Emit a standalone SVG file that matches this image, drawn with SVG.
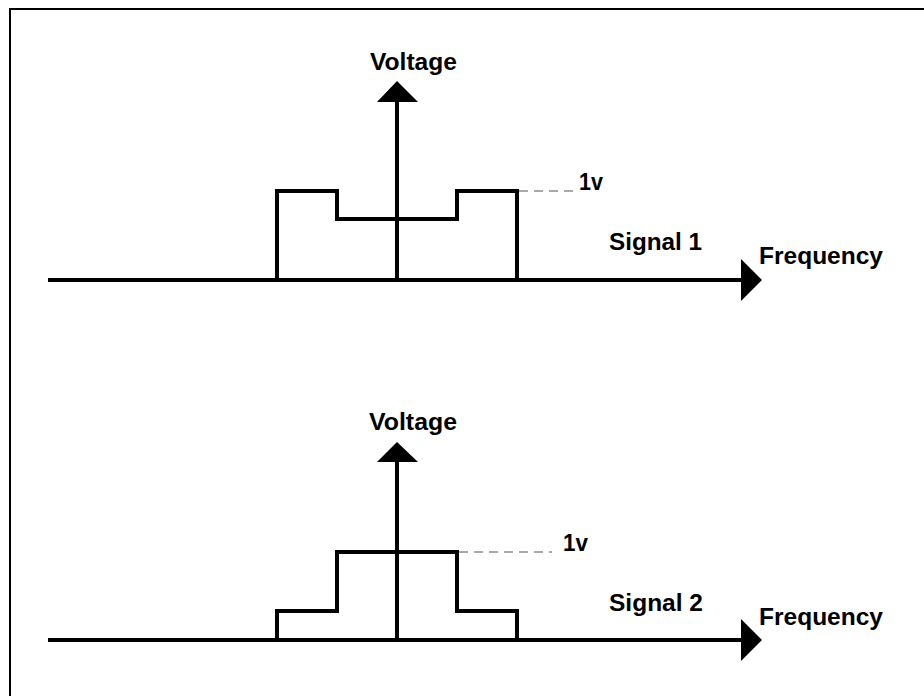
<svg xmlns="http://www.w3.org/2000/svg" width="924" height="696" viewBox="0 0 924 696">
<style>
.ax{stroke:#000;stroke-width:4;fill:none}
.sig{stroke:#000;stroke-width:4;fill:none;stroke-linejoin:miter}
.dash{stroke:#555;stroke-width:1;stroke-dasharray:9,6;fill:none}
.ah{fill:#000}
text{font-family:"Liberation Sans",Arial,sans-serif;font-weight:bold;font-size:23px;fill:#000}
</style>
<rect x="10" y="9" width="1000" height="1000" fill="#fff" stroke="#000" stroke-width="2"/>
<g id="connectors">
<line class="ax" x1="48" y1="280" x2="742" y2="280"/>
<polygon class="ah" points="741,259 762,280 741,301"/>
<line class="ax" x1="397" y1="280" x2="397" y2="101"/>
<polygon class="ah" points="377,102 397,81 418,102"/>
<line class="ax" x1="48" y1="640" x2="742" y2="640"/>
<polygon class="ah" points="741,619 762,640 741,661"/>
<line class="ax" x1="397" y1="640" x2="397" y2="461"/>
<polygon class="ah" points="377,462 397,442 418,462"/>
<line class="dash" x1="519" y1="191" x2="574" y2="191"/>
<line class="dash" x1="459" y1="552" x2="552" y2="552"/>
</g>
<g id="signal1">
<polyline class="sig" points="277,280 277,191 337,191 337,219 457,219 457,191 517,191 517,280"/>
<text x="370" y="70" textLength="87" lengthAdjust="spacingAndGlyphs">Voltage</text>
<text x="579" y="190" textLength="24" lengthAdjust="spacingAndGlyphs">1v</text>
<text x="609" y="250" textLength="93" lengthAdjust="spacingAndGlyphs">Signal 1</text>
<text x="759" y="264" textLength="124" lengthAdjust="spacingAndGlyphs">Frequency</text>
</g>
<g id="signal2">
<polyline class="sig" points="277,640 277,611 337,611 337,552 457,552 457,611 517,611 517,640"/>
<text x="369" y="430" textLength="88" lengthAdjust="spacingAndGlyphs">Voltage</text>
<text x="563" y="551" textLength="25" lengthAdjust="spacingAndGlyphs">1v</text>
<text x="609" y="611" textLength="94" lengthAdjust="spacingAndGlyphs">Signal 2</text>
<text x="759" y="625" textLength="124" lengthAdjust="spacingAndGlyphs">Frequency</text>
</g>
</svg>
